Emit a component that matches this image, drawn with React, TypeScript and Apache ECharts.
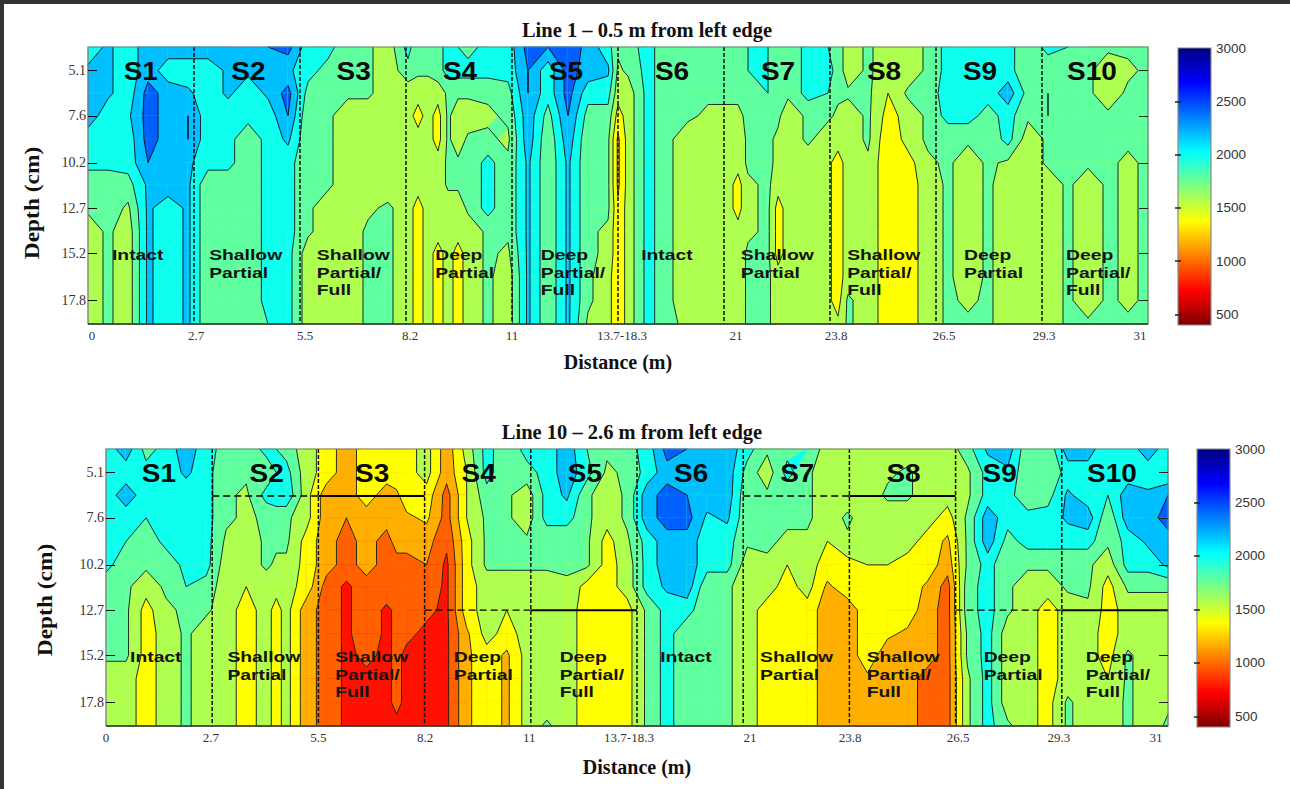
import React, { useEffect, useRef } from "react";
import * as echarts from "echarts";

// Depth rows (cm) of every column below
const depths = [3.8, 5.1, 6.35, 7.6, 8.9, 10.2, 11.4, 12.7, 14, 15.2, 16.5, 17.8, 19.1];
const depthTicks = [5.1, 7.6, 10.2, 12.7, 15.2, 17.8];
const levels = [0, 750, 1000, 1250, 1500, 1750, 2000, 2250, 2500];
const bandColors = ["#FF1000", "#FF6000", "#FFAF00", "#FFFF00", "#AFFF50", "#60FF9F", "#0FFFEF", "#00BFFF", "#0060FF"];
const colorbarTicks = [500, 1000, 1500, 2000, 2500, 3000];
const distanceLabels = ["0", "2.7", "5.5", "8.2", "11", "13.7-18.3", "21", "23.8", "26.5", "29.3", "31"];
const line1LabelPos = [0.1, 2.7, 5.43, 8.05, 10.6, 13.35, 16.2, 18.7, 21.4, 23.9, 26.3];
const line10LabelPos = [0, 2.62, 5.3, 7.96, 10.56, 13.05, 16.07, 18.57, 21.26, 23.78, 26.2];
const sectorLines = [2.65, 5.3, 7.95, 10.6, 13.25, 15.9, 18.55, 21.2, 23.85];
const sectorNames = ["S1", "S2", "S3", "S4", "S5", "S6", "S7", "S8", "S9", "S10"];
const sectorNameX = [1.32, 4.01, 6.64, 9.3, 11.95, 14.6, 17.25, 19.9, 22.3, 25.1];
const damageLabels = [
  ["Intact"], ["Shallow", "Partial"], ["Shallow", "Partial/", "Full"], ["Deep", "Partial"], ["Deep", "Partial/", "Full"],
  ["Intact"], ["Shallow", "Partial"], ["Shallow", "Partial/", "Full"], ["Deep", "Partial"], ["Deep", "Partial/", "Full"],
];
const damageX = [0.6, 3.03, 5.72, 8.68, 11.32, 13.83, 16.32, 18.98, 21.9, 24.45];
const damageDepths = [15.3, 16.3, 17.25];
// [from, to, depth, solid]
const line10Extents = [
  [2.65, 5.3, 6.4, 0], [5.3, 7.95, 6.4, 1], [7.95, 10.6, 12.7, 0], [10.6, 13.25, 12.7, 1],
  [15.9, 18.55, 6.4, 0], [18.55, 21.2, 6.4, 1], [21.2, 23.85, 12.7, 0], [23.85, 26.5, 12.7, 1],
];

const line1X = [0, 0.5, 1, 1.5, 2, 2.5, 3, 3.5, 4, 4.5, 5, 5.5, 6, 6.5, 7, 7.5, 8, 8.25, 8.5, 8.75, 9, 9.25, 9.5, 10, 10.5, 11, 11.5, 12, 12.5, 13, 13.25, 13.5, 14, 14.5, 15, 15.5, 16, 16.25, 16.5, 17, 17.25, 17.5, 18, 18.5, 18.75, 19, 19.5, 20, 20.5, 21, 21.5, 22, 22.5, 23, 23.5, 24, 24.5, 25, 25.5, 26, 26.5];
// Velocity in hundreds of m/s, one list per distance column, top to bottom
const line1V = [
  [21,23,24,24,21,21,18,18,16,16,16,16,16],
  [23,23,23,21,21,21,18,19,18,18,18,18,18],
  [21,21,21,22,21,21,19,17,16,16,16,16,16],
  [24,24,26,26,26,25,23,23,23,23,23,23,23],
  [24,21,24,24,24,24,24,21,21,21,21,21,21],
  [24,21,23,25,25,23,23,23,23,23,23,23,23],
  [24,21,21,21,21,21,18,18,18,18,18,18,18],
  [24,23,23,21,21,21,18,18,18,18,18,18,18],
  [23,23,21,21,18,18,18,18,18,18,18,18,18],
  [25,23,23,21,21,21,21,21,21,21,21,21,20],
  [26,23,26,25,23,21,21,21,21,21,21,21,21],
  [21,21,19,18,18,18,18,18,18,16,16,16,16],
  [21,19,19,18,18,18,18,16,16,16,16,16,16],
  [18,18,18,16,16,16,16,16,16,16,16,16,16],
  [18,18,18,16,16,16,16,17,18,18,18,18,18],
  [16,16,16,16,16,16,16,18,18,18,18,18,18],
  [21,19,16,16,16,16,16,16,16,16,16,16,16],
  [18,18,16,14,16,16,16,14,14,14,14,14,14],
  [18,18,16,16,16,16,16,16,16,16,16,16,16],
  [19,19,16,14,14,16,16,16,16,14,14,14,14],
  [21,21,18,18,18,18,18,16,16,16,16,16,16],
  [20,21,18,16,16,18,18,16,16,14,14,14,14],
  [19,21,18,16,18,18,18,18,16,16,16,16,16],
  [21,21,18,17,18,21,21,21,18,18,18,18,18],
  [21,21,19,18,17,18,18,18,18,17,16,16,16],
  [26,25,25,24,24,23,23,23,23,23,23,23,23],
  [25,21,21,19,18,18,18,18,18,18,18,18,18],
  [27,26,26,25,24,23,23,23,23,23,23,23,23],
  [24,24,21,19,18,18,18,18,18,18,18,18,17],
  [21,23,21,19,18,18,18,18,17,17,16,16,16],
  [18,17,16,14,12,12,12,13,13,13,13,13,13],
  [19,18,16,16,16,16,16,16,16,16,16,16,16],
  [21,21,21,21,21,21,21,21,21,21,21,21,21],
  [18,18,18,18,18,18,18,18,18,18,18,18,18],
  [18,18,18,18,16,16,16,16,16,16,16,16,17],
  [18,18,18,17,16,16,16,16,16,16,16,16,16],
  [18,18,18,17,17,16,16,16,16,16,16,16,16],
  [18,18,18,17,16,16,14,14,16,16,16,16,16],
  [20,20,18,18,18,18,17,17,17,18,18,18,18],
  [20,20,20,18,18,18,18,18,18,18,18,18,18],
  [19,19,19,18,17,17,16,14,14,14,16,16,16],
  [18,18,18,16,16,16,16,16,16,16,16,16,16],
  [21,21,21,18,18,16,16,16,16,16,16,16,16],
  [20,21,20,18,16,15.5,15.5,15.5,15.5,15.5,15.5,15.5,15.5],
  [19,19,18,17,16,14,14,14,14,14,14,14,15.5],
  [16,16,18,16,16,16,16,16,16,16,16,18,18],
  [18,18,18,18,18,17,16,16,16,16,16,16,16],
  [16,16,15,14,13,13,14,14,14,14,14,14,14],
  [16,16,18,16,16,14,14,14,14,14,14,14,14],
  [18,18,18,18,18,17,16,16,16,16,16,16,16],
  [21,21,22,21,18,18,18,18,18,18,18,18,18],
  [21,21,21,21,18,16,16,16,16,16,16,17,18],
  [22,21,21,19,18,18,18,18,18,18,18,18,18],
  [21,21,24,21,21,17,16,16,16,16,16,16,16],
  [18,18,19,18,16,16,16,16,16,16,16,16,16],
  [21,18,20,20,18,18,16,16,16,16,16,16,16],
  [20,18,18,18,18,18,18,18,18,18,18,18,18],
  [19,18,18,18,18,18,16,16,16,16,16,16,18],
  [18,16,16,18,18,18,18,18,18,18,18,18,18],
  [18,17,18,18,18,17,17,17,17,17,17,17,18],
  [18,18,18,18,18,18,18,18,18,18,18,18,18],
];

const line10X = [0, 0.5, 1, 1.5, 2, 2.5, 3, 3.5, 4, 4.25, 4.5, 5, 5.5, 6, 6.5, 7, 7.25, 7.5, 8, 8.5, 9, 9.5, 10, 10.5, 11, 11.5, 12, 12.5, 13, 13.5, 14, 14.5, 15, 15.5, 16, 16.5, 17, 17.5, 18, 18.5, 19, 19.5, 20, 20.5, 21, 21.5, 22, 22.5, 23, 23.5, 24, 24.5, 25, 25.5, 26, 26.5];
const line10V = [
  [21,21,21,21,21,21,18,18,18,18,16,16,16],
  [24,21,24,21,20,18,18,18,18,18,16,16,16],
  [19,21,21,20,18,18,16,14,14,14,14,14,14],
  [21,21,21,21,21,18,18,17,16,16,16,16,16],
  [24,23,21,21,21,21,20,18,18,18,18,18,18],
  [21,21,21,21,21,21,19,18,16,16,16,16,16],
  [19,18,18,18,17,16,16,16,16,16,16,16,16],
  [18,18,17,17,16,16,15,14,14,14,14,14,14],
  [21,18,21,18,18,18,16,16,16,16,16,16,16],
  [20,20,22,18,18,17,16,14,14,14,14,14,14],
  [19,21,22,18,18,17,16,16,16,16,16,16,16],
  [16,16,16,16,14,14,14,11,11,11,11,11,11],
  [14,14,11,11,11,11,9,9,9,9,9,9,9],
  [11,11,11,10,9,9,7,7,7,7,7,7,7],
  [14,14,14,11,11,11,9,9,9,8,7,7,7],
  [14,14,11,11,9,9,9,7,7,7,7,7,7],
  [14,14,12,11,11,9,9,8,8,8,8,8,7],
  [14,14,14,12,11,9,9,9,8,7,7,7,7],
  [16,16,14,13,11,10,9,8,7,7,7,7,7],
  [11,11,9,9,8,7,7,7,7,7,7,7,7],
  [16,15,15,15,14,14,14,14,12,12,12,12,12],
  [21,21,19,18,18,18,16,16,16,14,14,14,14],
  [18,18,18,18,18,18,16,15,14,12,12,12,12],
  [21,19,16,16,18,18,16,16,16,16,16,16,16],
  [21,21,21,21,18,18,16,16,16,16,16,16,18],
  [24,24,23,21,18,18,17,16,16,16,16,16,16],
  [20,21,18,18,18,18,14,14,14,14,14,14,14],
  [18,17,16,16,14,14,14,14,14,14,14,14,14],
  [19,18,18,18,17,16,16,14,14,14,14,14,14],
  [21,21,24,24,21,21,21,18,18,18,18,18,18],
  [26,24,26,26,24,24,23,21,21,21,21,21,21],
  [25,24,25,26,24,24,24,21,18,18,18,18,18],
  [24,24,24,22,21,21,18,18,18,18,18,18,18],
  [24,24,24,23,21,21,18,18,18,18,18,18,18],
  [21,19,18,18,18,16,16,16,16,16,16,16,16],
  [18,16,18,18,18,17,16,14,14,14,14,14,14],
  [19,21,18,18,17,15,14,14,14,14,14,14,14],
  [20,18,18,18,17,16,16,14,14,14,14,14,14],
  [16,16,16,16,15,14,12,11,11,11,11,11,11],
  [16,16,16,18,17,14,14,11,11,11,11,11,11],
  [16,16,16,16,16,15,14,14,14,14,12,11,11],
  [16,17,18,16,16,15,14,14,13,11,11,11,11],
  [16,18,18,16,16,14,14,14,12,11,11,11,11],
  [16,16,16,16,14,14,12,11,11,11,9,9,9],
  [16,16,16,14,12,11,9,9,9,9,9,9,9],
  [19,17,17,18,18,18,19,19,18,18,17,17,17],
  [23,21,21,24,24,21,21,21,21,21,21,21,21],
  [24,22,21,21,19,18,18,18,16,16,16,16,18],
  [18,18,18,21,21,18,16,16,16,16,16,16,16],
  [18,18,19,21,21,18,16,14,14,14,14,14,14],
  [24,21,23,23,21,18,18,16,16,16,16,18,18],
  [24,21,21,24,21,18,18,17,16,16,16,16,16],
  [20,21,20,18,18,16,14,14,14,14,15,16,16],
  [21,21,24,24,21,21,18,16,16,18,18,18,18],
  [24,21,23,24,23,21,18,16,16,16,16,16,16],
  [21,20,25,26,24,23,18,16,16,16,16,17,18],
];

const SERIF = "'Liberation Serif', serif";
const SANS = "'Liberation Sans', sans-serif";

type P = [number, number];

// Fill polygon of one grid cell where value >= level, and its contour segments
function clipCell(corners: { p: P; v: number }[], level: number) {
  const poly: P[] = [];
  const cross: P[] = [];
  for (let i = 0; i < 4; i++) {
    const a = corners[i];
    const b = corners[(i + 1) % 4];
    const ai = a.v >= level;
    const bi = b.v >= level;
    if (ai) poly.push(a.p);
    if (ai !== bi) {
      const t = (level - a.v) / (b.v - a.v);
      const q: P = [a.p[0] + (b.p[0] - a.p[0]) * t, a.p[1] + (b.p[1] - a.p[1]) * t];
      poly.push(q);
      cross.push(q);
    }
  }
  return { poly, cross };
}

function contourSeries(xs: number[], cols: number[][], xAxisIndex: number, yAxisIndex: number) {
  return {
    type: "custom",
    coordinateSystem: "cartesian2d",
    xAxisIndex,
    yAxisIndex,
    silent: true,
    clip: false,
    z: 2,
    data: [[0, 5]],
    renderItem: (_p: any, api: any) => {
      const fills: any[] = [];
      const lines: any[] = [];
      const pt = (c: number, r: number): P => api.coord([xs[c], depths[r]]);
      for (let c = 0; c < xs.length - 1; c++) {
        for (let r = 0; r < depths.length - 1; r++) {
          const corners = [
            { p: pt(c, r), v: cols[c][r] * 100 },
            { p: pt(c + 1, r), v: cols[c + 1][r] * 100 },
            { p: pt(c + 1, r + 1), v: cols[c + 1][r + 1] * 100 },
            { p: pt(c, r + 1), v: cols[c][r + 1] * 100 },
          ];
          const vals = corners.map((k) => k.v);
          const lo = Math.min(...vals);
          const hi = Math.max(...vals);
          for (let l = 0; l < levels.length; l++) {
            const level = levels[l];
            const next = levels[l + 1] ?? Infinity;
            if (hi < level || lo >= next) continue;
            const { poly, cross } = clipCell(corners, level);
            if (poly.length >= 3) {
              fills.push({
                type: "polygon",
                shape: { points: poly },
                style: { fill: bandColors[l], stroke: bandColors[l], lineWidth: 0.7 },
              });
            }
            for (let k = 0; k + 1 < cross.length; k += 2) {
              lines.push({
                type: "line",
                shape: { x1: cross[k][0], y1: cross[k][1], x2: cross[k + 1][0], y2: cross[k + 1][1] },
                style: { stroke: "#151515", lineWidth: 0.9 },
              });
            }
          }
        }
      }
      return { type: "group", children: [...fills, ...lines] };
    },
  };
}

function overlaySeries(xAxisIndex: number, yAxisIndex: number, extents: number[][]) {
  return {
    type: "custom",
    coordinateSystem: "cartesian2d",
    xAxisIndex,
    yAxisIndex,
    silent: true,
    clip: false,
    z: 3,
    data: [[0, 5]],
    renderItem: (_p: any, api: any) => {
      const children: any[] = [];
      const tl = api.coord([0, 3.8]);
      const br = api.coord([26.5, 19.1]);
      sectorLines.forEach((x) => {
        const a = api.coord([x, 3.8]);
        const b = api.coord([x, 19.1]);
        children.push({
          type: "line",
          shape: { x1: a[0], y1: a[1], x2: b[0], y2: b[1] },
          style: { stroke: "#111", lineWidth: 1.5, lineDash: [4, 2] },
        });
      });
      extents.forEach(([x0, x1, d, solid]) => {
        const a = api.coord([x0, d]);
        const b = api.coord([x1, d]);
        children.push({
          type: "line",
          shape: { x1: a[0], y1: a[1], x2: b[0], y2: b[1] },
          style: solid
            ? { stroke: "#000", lineWidth: 2 }
            : { stroke: "#000", lineWidth: 1.4, lineDash: [7, 4] },
        });
      });
      children.push({
        type: "rect",
        shape: { x: tl[0], y: tl[1], width: br[0] - tl[0], height: br[1] - tl[1] },
        style: { fill: "none", stroke: "#777", lineWidth: 1.2 },
      });
      children.push({
        type: "line",
        shape: { x1: tl[0], y1: br[1], x2: br[0], y2: br[1] },
        style: { stroke: "#333", lineWidth: 1.4 },
      });
      sectorNames.forEach((name, i) => {
        const p = api.coord([sectorNameX[i], 5.13]);
        children.push({
          type: "text",
          x: p[0],
          y: p[1],
          scaleX: 1.12,
          style: {
            text: name, fontFamily: SANS, fontWeight: "bold", fontSize: 25, fill: "#0a0a0a",
            textAlign: "center", textVerticalAlign: "middle",
          },
        });
      });
      damageLabels.forEach((rows, i) => {
        rows.forEach((row, j) => {
          const p = api.coord([damageX[i], damageDepths[j]]);
          children.push({
            type: "text",
            x: p[0],
            y: p[1],
            scaleX: 1.38,
            style: {
              text: row, fontFamily: SANS, fontWeight: "bold", fontSize: 14, fill: "#141414",
              textAlign: "left", textVerticalAlign: "middle",
            },
          });
        });
      });
      return { type: "group", children };
    },
  };
}

function colorbarSeries(xAxisIndex: number, yAxisIndex: number) {
  return {
    type: "custom",
    coordinateSystem: "cartesian2d",
    xAxisIndex,
    yAxisIndex,
    silent: true,
    clip: false,
    z: 2,
    data: [[0, 1000]],
    renderItem: (_p: any, api: any) => {
      const a = api.coord([0, 3000]);
      const b = api.coord([1, 400]);
      return {
        type: "rect",
        shape: { x: a[0], y: a[1], width: b[0] - a[0], height: b[1] - a[1] },
        style: {
          stroke: "#8a8a8a",
          lineWidth: 1.2,
          fill: new echarts.graphic.LinearGradient(0, 0, 0, 1, [
            { offset: 0, color: "#000080" },
            { offset: 0.125, color: "#0000FF" },
            { offset: 0.375, color: "#00FFFF" },
            { offset: 0.625, color: "#FFFF00" },
            { offset: 0.875, color: "#FF0000" },
            { offset: 1, color: "#800000" },
          ]),
        },
      };
    },
  };
}

function plotXAxis(gridIndex: number, labelPos: number[], nameGap: number) {
  return {
    type: "value",
    gridIndex,
    min: 0,
    max: 26.5,
    z: 5,
    name: "Distance (m)",
    nameLocation: "middle",
    nameGap,
    nameTextStyle: { fontFamily: SERIF, fontWeight: "bold", fontSize: 20, color: "#111" },
    axisLine: { show: false },
    axisTick: { show: false },
    splitLine: { show: false },
    axisLabel: {
      customValues: labelPos,
      formatter: (v: number) => distanceLabels[labelPos.indexOf(v)] ?? "",
      fontFamily: SERIF,
      fontSize: 13,
      color: "#333",
      margin: 5,
      showMinLabel: true,
      showMaxLabel: true,
    },
  };
}

function plotYAxes(gridIndex: number) {
  const base = {
    type: "value",
    gridIndex,
    min: 3.8,
    max: 19.1,
    inverse: true,
    z: 5,
    axisLine: { show: false },
    splitLine: { show: false },
  };
  return [
    {
      ...base,
      position: "left",
      axisTick: { inside: true, length: 9, customValues: depthTicks, lineStyle: { color: "#111", width: 1 } },
      axisLabel: {
        customValues: depthTicks,
        formatter: (v: number) => v.toFixed(1),
        fontFamily: SERIF,
        fontSize: 14,
        color: "#333",
        margin: 2,
      },
    },
    {
      ...base,
      position: "right",
      axisTick: { inside: true, length: 9, customValues: depthTicks, lineStyle: { color: "#222", width: 1 } },
      axisLabel: { show: false },
    },
  ];
}

function barAxes(gridIndex: number) {
  const base = {
    type: "value",
    gridIndex,
    min: 400,
    max: 3000,
    z: 5,
    axisLine: { show: false },
    splitLine: { show: false },
  };
  const ticks = colorbarTicks.slice(0, 5);
  return [
    {
      ...base,
      position: "right",
      axisTick: { inside: true, length: 3, customValues: ticks, lineStyle: { color: "#222", width: 1.5 } },
      axisLabel: {
        customValues: colorbarTicks,
        formatter: (v: number) => String(v),
        fontFamily: SANS,
        fontSize: 13.5,
        color: "#333",
        margin: 5,
      },
    },
    {
      ...base,
      position: "left",
      axisTick: { inside: true, length: 3, customValues: ticks, lineStyle: { color: "#222", width: 1.5 } },
      axisLabel: { show: false },
    },
  ];
}

function depthName(x: number, y: number) {
  return {
    type: "text",
    x,
    y,
    rotation: Math.PI / 2,
    scaleX: 1.17,
    style: {
      text: "Depth (cm)", fontFamily: SERIF, fontWeight: "bold", fontSize: 20, fill: "#111",
      textAlign: "center", textVerticalAlign: "middle",
    },
  };
}

export default function App() {
  const ref = useRef<HTMLDivElement>(null);
  useEffect(() => {
    const chart = echarts.init(ref.current!, null, { renderer: "svg" });
    const titleStyle = { fontFamily: SERIF, fontWeight: "bold" as const, fontSize: 20.5, color: "#111" };
    chart.setOption({
      animation: false,
      backgroundColor: "#fff",
      title: [
        { text: "Line 1 – 0.5 m from left edge", left: 642, top: 14, textAlign: "center", textStyle: titleStyle },
        { text: "Line 10 – 2.6 m from left edge", left: 627, top: 416, textAlign: "center", textStyle: titleStyle },
      ],
      grid: [
        { left: 88, top: 47, width: 1060, height: 277 },
        { left: 106, top: 449, width: 1062, height: 277 },
        { left: 1178, top: 48, width: 33, height: 277 },
        { left: 1197, top: 449, width: 33, height: 278 },
      ],
      xAxis: [
        plotXAxis(0, line1LabelPos, 28),
        plotXAxis(1, line10LabelPos, 31),
        { type: "value", gridIndex: 2, min: 0, max: 1, show: false },
        { type: "value", gridIndex: 3, min: 0, max: 1, show: false },
      ],
      yAxis: [...plotYAxes(0), ...plotYAxes(1), ...barAxes(2), ...barAxes(3)],
      series: [
        contourSeries(line1X, line1V, 0, 0),
        overlaySeries(0, 0, []),
        contourSeries(line10X, line10V, 1, 2),
        overlaySeries(1, 2, line10Extents),
        colorbarSeries(2, 4),
        colorbarSeries(3, 6),
      ],
      graphic: [
        { type: "rect", shape: { x: 0, y: 0, width: 1290, height: 4 }, style: { fill: "#333" } },
        { type: "rect", shape: { x: 0, y: 0, width: 4, height: 789 }, style: { fill: "#333" } },
        depthName(33, 203),
        depthName(46, 600),
      ],
    });
    return () => chart.dispose();
  }, []);
  return <div ref={ref} style={{ position: "absolute", left: 0, top: 0, width: 1290, height: 789 }} />;
}
